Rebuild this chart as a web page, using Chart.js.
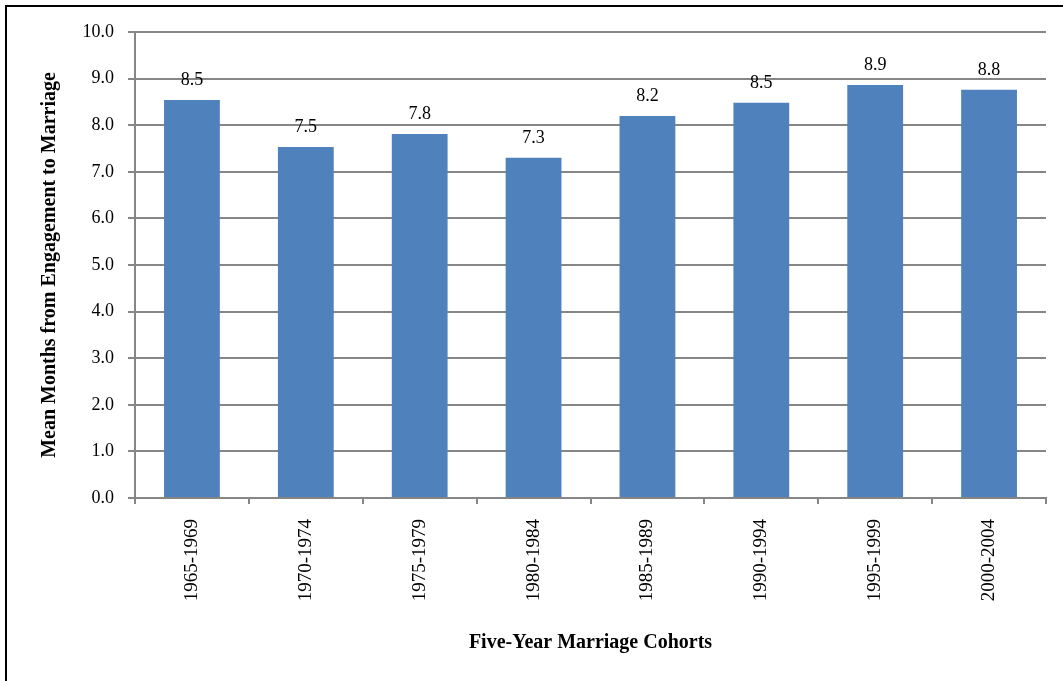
<!DOCTYPE html>
<html>
<head>
<meta charset="utf-8">
<script src="https://cdn.jsdelivr.net/npm/chart.js@4"></script>
<style>
  html, body { margin: 0; padding: 0; background: #fff; overflow: hidden; }
  #frame { position: absolute; left: 5px; top: 5px; width: 1100px; height: 700px; border: 2px solid #000; }
  #c { position: absolute; left: 0; top: 0; }
</style>
</head>
<body>
<div id="frame"></div>
<canvas id="c" width="1063" height="681"></canvas>
<script>
const cohorts = ["1965-1969", "1970-1974", "1975-1979", "1980-1984", "1985-1989", "1990-1994", "1995-1999", "2000-2004"];
const meanMonths = [8.54, 7.53, 7.81, 7.30, 8.20, 8.48, 8.86, 8.76];
const yTicks = [0, 1, 2, 3, 4, 5, 6, 7, 8, 9, 10];

const serif = "'Liberation Serif', 'Times New Roman', serif";
const gridGray = "#868686";

// value labels above each bar
const barLabels = {
  id: "barLabels",
  afterDatasetsDraw(chart) {
    const ctx = chart.ctx;
    const meta = chart.getDatasetMeta(0);
    ctx.save();
    ctx.font = "18px " + serif;
    ctx.fillStyle = "#000";
    ctx.textAlign = "center";
    ctx.textBaseline = "alphabetic";
    meta.data.forEach((bar, i) => {
      ctx.fillText(meanMonths[i].toFixed(1), bar.x, bar.y - 15);
    });
    ctx.restore();
  }
};

new Chart(document.getElementById("c"), {
  type: "bar",
  data: {
    labels: cohorts,
    datasets: [{
      data: meanMonths,
      backgroundColor: "#4F81BD",
      borderWidth: 0,
      categoryPercentage: 1,
      barPercentage: 0.49
    }]
  },
  options: {
    responsive: false,
    animation: false,
    layout: { padding: { left: 0, top: 32, right: 17, bottom: 0 } },
    plugins: {
      legend: { display: false },
      tooltip: { enabled: false }
    },
    scales: {
      x: {
        afterFit(scale) { scale.height = 183; },
        grid: {
          offset: true,
          drawOnChartArea: false,
          drawTicks: true,
          tickLength: 6,
          color: gridGray,
          lineWidth: 2
        },
        border: { color: gridGray, width: 2 },
        ticks: {
          minRotation: 90,
          maxRotation: 90,
          padding: 15,
          color: "#000",
          font: { family: serif, size: 19 }
        },
        title: {
          display: true,
          text: "Five-Year Marriage Cohorts",
          color: "#000",
          font: { family: serif, size: 20, weight: "bold" },
          padding: { top: 0, bottom: 26 }
        }
      },
      y: {
        min: 0,
        max: 10,
        afterFit(scale) { scale.width = 135; },
        afterBuildTicks(scale) { scale.ticks = yTicks.map(v => ({ value: v })); },
        grid: {
          color: gridGray,
          lineWidth: 2,
          drawTicks: true,
          tickLength: 7
        },
        border: { color: gridGray, width: 2 },
        ticks: {
          padding: 14,
          color: "#000",
          font: { family: serif, size: 18 },
          callback: v => v.toFixed(1)
        },
        title: {
          display: true,
          text: "Mean Months from Engagement to Marriage",
          color: "#000",
          font: { family: serif, size: 20, weight: "bold" },
          padding: { top: 38, bottom: 0 }
        }
      }
    }
  },
  plugins: [barLabels]
});
</script>
</body>
</html>
